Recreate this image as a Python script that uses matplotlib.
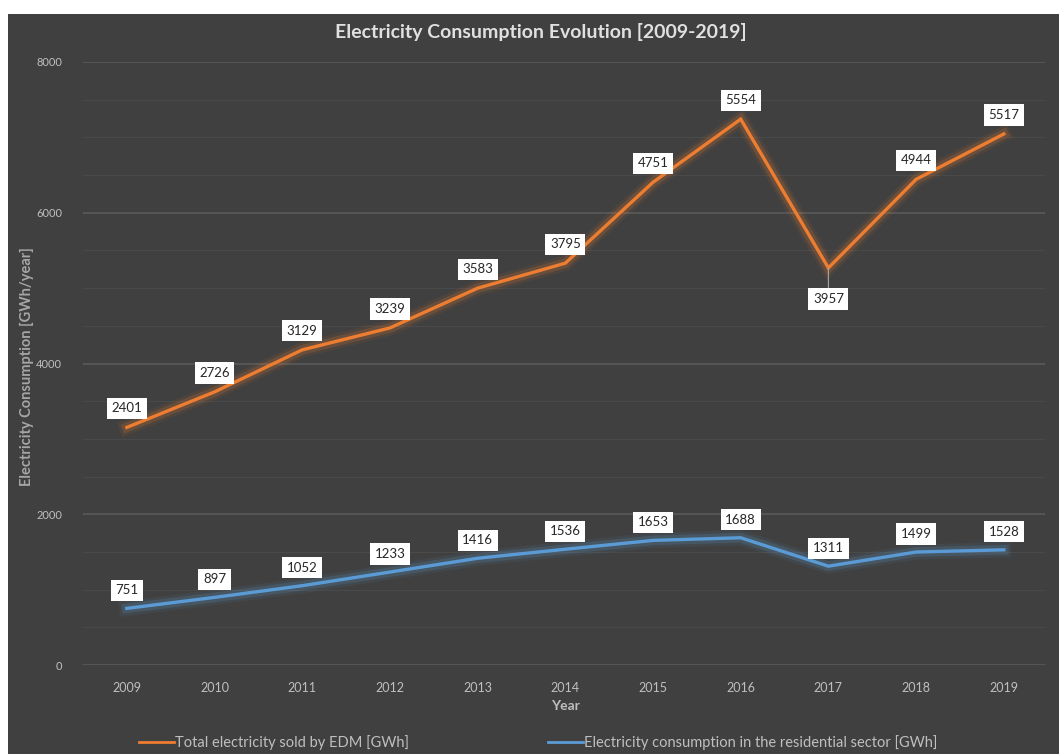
import matplotlib.pyplot as plt
import matplotlib.patheffects as pe
from matplotlib.patches import Rectangle
import numpy as np

years = [2009, 2010, 2011, 2012, 2013, 2014, 2015, 2016, 2017, 2018, 2019]
residential = np.array([751, 897, 1052, 1233, 1416, 1536, 1653, 1688, 1311, 1499, 1528])
sold_edm = np.array([2401, 2726, 3129, 3239, 3583, 3795, 4751, 5554, 3957, 4944, 5517])

plt.rcParams['font.family'] = ['Lato', 'DejaVu Sans']

BG = '#404040'
ORANGE = '#ed7d31'
BLUE = '#5b9bd5'

fig = plt.figure(figsize=(10.59, 7.54), dpi=100, facecolor='white')
# dark chart area, leaving a thin white strip on top and left
fig.patches.append(Rectangle((8 / 1059, 0), 1, 1 - 14 / 754, transform=fig.transFigure,
                             facecolor=BG, edgecolor='none', zorder=-10))

ax = fig.add_axes([83 / 1059, 89 / 754, 962 / 1059, 603 / 754])
ax.set_facecolor(BG)
for s in ax.spines.values():
    s.set_visible(False)

ax.set_xlim(2008.5, 2019.47)
ax.set_ylim(0, 8000)
ax.set_yticks([0, 2000, 4000, 6000, 8000])
ax.set_yticks(np.arange(0, 8001, 500), minor=True)
ax.grid(axis='y', which='major', color='#5a5a5a', lw=1.2)
ax.grid(axis='y', which='minor', color='#4a4a4a', lw=0.8)
ax.set_axisbelow(True)
ax.set_xticks(years)
ax.tick_params(axis='both', which='both', length=0, colors='#bfbfbf', labelsize=9)
ax.tick_params(axis='x', pad=12)
ax.tick_params(axis='y', pad=15, labelsize=8)

# stacked line: the EDM series sits on top of the residential one
stack_top = residential + sold_edm

def glow(color):
    return [pe.Stroke(linewidth=11, foreground=color, alpha=0.08),
            pe.Stroke(linewidth=7, foreground=color, alpha=0.18),
            pe.Normal()]

l1, = ax.plot(years, stack_top, color=ORANGE, lw=2.4, solid_joinstyle='miter',
              path_effects=glow(ORANGE), label='Total electricity sold by EDM [GWh]', zorder=3)
l2, = ax.plot(years, residential, color=BLUE, lw=2.4,
              path_effects=glow(BLUE), label='Electricity consumption in the residential sector [GWh]', zorder=3)

box = dict(boxstyle='square,pad=0.35', facecolor='white', edgecolor='none')
for x, y, v in zip(years, stack_top, sold_edm):
    if x == 2017:
        ax.annotate(str(v), (x, y), xytext=(0, -31), textcoords='offset pixels',
                    ha='center', va='center', fontsize=9.5, color='#262626', bbox=box, zorder=5,
                    arrowprops=dict(arrowstyle='-', color='#a6a6a6', lw=0.8, shrinkA=0, shrinkB=0))
    else:
        ax.annotate(str(v), (x, y), xytext=(0, 19), textcoords='offset pixels',
                    ha='center', va='center', fontsize=9.5, color='#262626', bbox=box, zorder=5)
for x, y, v in zip(years, residential, residential):
    ax.annotate(str(v), (x, y), xytext=(0, 18), textcoords='offset pixels',
                ha='center', va='center', fontsize=9.5, color='#262626', bbox=box, zorder=5)

fig.text(541 / 1059, 1 - 32 / 754, 'Electricity Consumption Evolution [2009-2019]',
         ha='center', va='center', fontsize=14, fontweight='bold', color='#e0e0e0')
fig.text(565 / 1059, 1 - 706 / 754, 'Year', ha='center', va='center',
         fontsize=10, fontweight='bold', color='#bfbfbf')
fig.text(27 / 1059, 1 - 367 / 754, 'Electricity Consumption [GWh/year]', ha='center', va='center',
         rotation=90, fontsize=10.5, fontweight='bold', color='#a6a6a6')

fig.legend(handles=[l1, l2], loc='center', bbox_to_anchor=(538 / 1059, 1 - 743 / 754),
           ncol=2, frameon=False, fontsize=10.5, labelcolor='#bfbfbf',
           handlelength=2.4, handletextpad=0.1, columnspacing=9.5)
for h in fig.legends[0].legend_handles:
    h.set_path_effects([])
    h.set_linewidth(2)

fig.savefig('out.png', dpi=100, facecolor='white')
